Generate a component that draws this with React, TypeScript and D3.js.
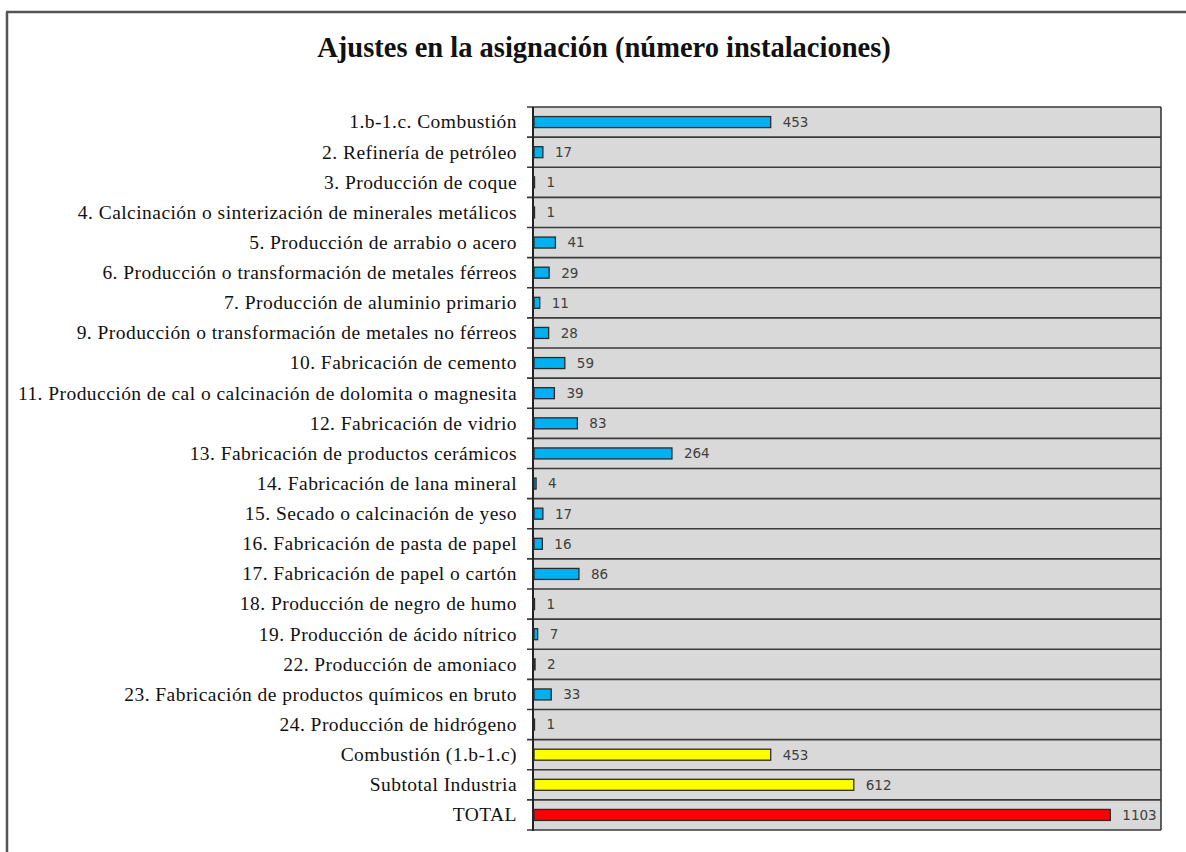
import React from "react";
import * as d3 from "d3";

const categories: string[] = [
  "1.b-1.c. Combustión",
  "2. Refinería de petróleo",
  "3. Producción de coque",
  "4. Calcinación o sinterización de minerales metálicos",
  "5. Producción de arrabio o acero",
  "6. Producción o transformación de metales férreos",
  "7. Producción de aluminio primario",
  "9. Producción o transformación de metales no férreos",
  "10. Fabricación de cemento",
  "11. Producción de cal o calcinación de dolomita o magnesita",
  "12. Fabricación de vidrio",
  "13. Fabricación de productos cerámicos",
  "14. Fabricación de lana mineral",
  "15. Secado o calcinación de yeso",
  "16. Fabricación de pasta de papel",
  "17. Fabricación de papel o cartón",
  "18. Producción de negro de humo",
  "19. Producción de ácido nítrico",
  "22. Producción de amoniaco",
  "23. Fabricación de productos químicos en bruto",
  "24. Producción de hidrógeno",
  "Combustión (1.b-1.c)",
  "Subtotal Industria",
  "TOTAL",
];

const values: number[] = [
  453, 17, 1, 1, 41, 29, 11, 28, 59, 39, 83, 264, 4, 17, 16, 86, 1, 7, 2, 33, 1,
  453, 612, 1103,
];

const groups: string[] = [
  "sector", "sector", "sector", "sector", "sector", "sector", "sector",
  "sector", "sector", "sector", "sector", "sector", "sector", "sector",
  "sector", "sector", "sector", "sector", "sector", "sector", "sector",
  "subtotal", "subtotal", "total",
];

const xDomain: [number, number] = [0, 1200];
const title = "Ajustes en la asignación (número instalaciones)";

const groupColor: Record<string, string> = {
  sector: "#00b0f0",
  subtotal: "#ffff00",
  total: "#ff0000",
};

export default function App() {
  const W = 1186;
  const H = 852;
  const plot = { left: 533, right: 1161, top: 107, bottom: 830 };

  const x = d3.scaleLinear().domain(xDomain).range([plot.left + 1, plot.right]);
  const y = d3
    .scaleBand<string>()
    .domain(categories)
    .range([plot.top, plot.bottom])
    .paddingInner(0)
    .paddingOuter(0);
  const barH = 11;
  const step = y.step();
  const boundaries = d3.range(categories.length + 1).map((i) => plot.top + i * step);

  return (
    <svg
      width={W}
      height={H}
      style={{ position: "absolute", left: 0, top: 0, background: "#fff" }}
    >
      {/* outer frame */}
      <line x1={6} x2={W} y1={12} y2={12} stroke="#555" strokeWidth={2.5} />
      <line x1={7} x2={7} y1={12} y2={H} stroke="#555" strokeWidth={2.5} />

      <text
        x={604}
        y={57}
        textAnchor="middle"
        fontFamily="'Liberation Serif', 'Times New Roman', serif"
        fontWeight="bold"
        fontSize={28.5}
        fill="#111"
      >
        {title}
      </text>

      {/* plot area */}
      <rect
        x={plot.left}
        y={plot.top}
        width={plot.right - plot.left}
        height={plot.bottom - plot.top}
        fill="#d9d9d9"
      />
      {boundaries.map((b, i) => (
        <line
          key={"g" + i}
          x1={plot.left - 6}
          x2={plot.right}
          y1={b}
          y2={b}
          stroke="#3a3a3a"
          strokeWidth={1.6}
        />
      ))}
      <line
        x1={plot.right}
        x2={plot.right}
        y1={plot.top}
        y2={plot.bottom}
        stroke="#3a3a3a"
        strokeWidth={1.6}
      />
      <line
        x1={plot.left}
        x2={plot.left}
        y1={plot.top}
        y2={plot.bottom + 1}
        stroke="#222"
        strokeWidth={2}
      />

      {categories.map((c, i) => {
        const cy = (y(c) as number) + step / 2;
        const x0 = x(0);
        const x1 = x(values[i]);
        return (
          <g key={c}>
            <rect
              x={x0}
              y={cy - barH / 2}
              width={Math.max(x1 - x0, 0.5)}
              height={barH}
              fill={groupColor[groups[i]]}
              stroke="#2b2b2b"
              strokeWidth={1.3}
            />
            <text
              x={x1 + 12}
              y={cy}
              dy="0.36em"
              fontFamily="'DejaVu Sans', Verdana, sans-serif"
              fontSize={13.5}
              fill="#404040"
            >
              {values[i]}
            </text>
            <text
              x={517}
              y={cy}
              dy="0.33em"
              textAnchor="end"
              fontFamily="'Liberation Serif', 'Times New Roman', serif"
              fontSize={19.5}
              letterSpacing={0.45}
              fill="#111"
            >
              {c}
            </text>
          </g>
        );
      })}
    </svg>
  );
}
